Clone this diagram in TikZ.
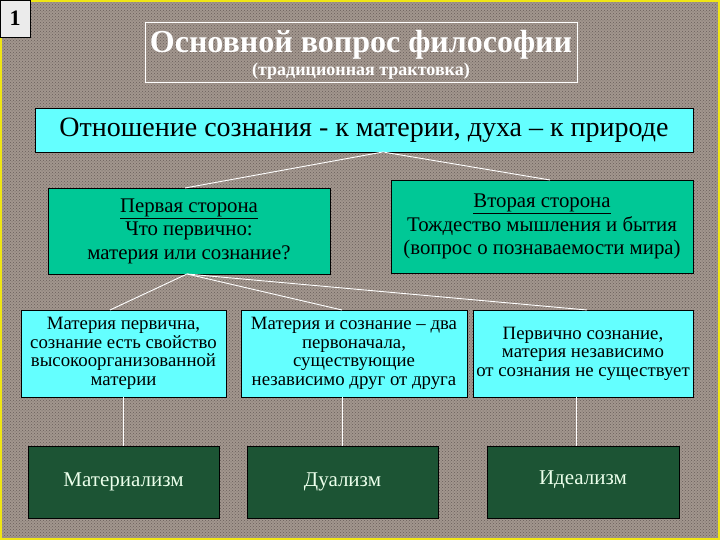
\documentclass[tikz,border=0pt]{standalone}
\usepackage{fontspec}
\setmainfont{Liberation Serif}
\usetikzlibrary{positioning,patterns}
\definecolor{granite}{RGB}{162,150,142}
\definecolor{grain}{RGB}{105,95,90}
\definecolor{boxcyan}{RGB}{100,255,255}
\definecolor{sidegreen}{RGB}{0,200,150}
\definecolor{marble}{RGB}{28,84,52}
\definecolor{framey}{RGB}{240,230,20}
\begin{document}
\begin{tikzpicture}[x=1pt,y=-1pt,
      box/.style={
         rectangle,
         draw=black,
         thick,
         inner sep=2pt,
         outer sep=0pt,
         align=center,
         text=black,
         font=\fontsize{18.8}{18.5}\selectfont
      },
      side/.style={box, fill=sidegreen, font=\fontsize{20.8}{23.5}\selectfont},
      view/.style={box, fill=boxcyan},
      ism/.style={box, fill=marble, text=white!92!green, font=\fontsize{21}{24}\selectfont},
      link/.style={draw=white, line width=0.9pt},
    ]
    % background
    \path[use as bounding box, fill=granite] (0,0) rectangle (720,540);
    \fill[pattern=crosshatch dots, pattern color=grain] (0,0) rectangle (720,540);
    \draw[framey, line width=2pt] (1,1) rectangle (719,539);

    \node (num) [box, fill=black!8, minimum width=30pt, minimum height=37pt,
       font=\fontsize{22}{24}\selectfont\bfseries] at (15,18.5) {1};
    \node (title) [rectangle, draw=white, thin, minimum width=432pt, minimum height=60pt]
       at (361,52) {};
    \node (heading) [text=white, font=\fontsize{32}{34}\selectfont\bfseries] at (361,45) {Основной вопрос философии};
    \node (subhead) [text=white, font=\fontsize{18}{20}\selectfont\bfseries, below=-4pt of heading] {(традиционная трактовка)};

    \node (relation) [box, fill=boxcyan, minimum width=658pt, minimum height=44pt,
       font=\fontsize{28}{30}\selectfont] at (364,130)
       {Отношение сознания - к материи, духа – к природе};

    \node (side1) [side, minimum width=282pt, minimum height=86pt] at (189,231)
       {\underline{Первая сторона}\\Что первично:\\материя или сознание?};
    \node (side2) [side, minimum width=302pt, minimum height=93pt] at (542,226.5)
       {\underline{Вторая сторона}\\Тождество мышления и бытия\\(вопрос о познаваемости мира)};

    \node (view1) [view, minimum width=205pt, minimum height=87pt] at (123.5,353.5)
       {Материя первична,\\сознание есть свойство\\высокоорганизованной\\материи};
    \node (view2) [view, minimum width=226pt, minimum height=87pt] at (354,353.5)
       {Материя и сознание – два\\первоначала,\\существующие\\независимо друг от друга};
    \node (view3) [view, minimum width=220pt, minimum height=87pt] at (583,353.5)
       {Первично сознание,\\материя независимо\\от сознания не существует};

    \node (ism1) [ism, minimum width=191pt, minimum height=72pt] at (123.5,482) {Материализм};
    \node (ism2) [ism, minimum width=191pt, minimum height=72pt] at (342.5,482) {Дуализм};
    \node (ism3) [ism, minimum width=192pt, minimum height=72pt] at (583,482) {\raisebox{9pt}{Идеализм}};

    % connectors
    \draw[link] ([xshift=19pt]relation.south) -- ([xshift=-4pt]side1.north);
    \draw[link] ([xshift=19pt]relation.south) -- ([xshift=8pt]side2.north);
    \draw[link] ([xshift=-2pt]side1.south) -- ([xshift=-13.5pt]view1.north);
    \draw[link] ([xshift=-2pt]side1.south) -- ([xshift=-12pt]view2.north);
    \draw[link] ([xshift=-2pt]side1.south) -- ([xshift=4pt]view3.north);
    \draw[link] (view1.south) -- (ism1.north);
    \draw[link] (view2.south -| ism2.north) -- (ism2.north);
    \draw[link] ([xshift=-7pt]view3.south -| ism3.north) -- ([xshift=-7pt]ism3.north);
\end{tikzpicture}
\end{document}
